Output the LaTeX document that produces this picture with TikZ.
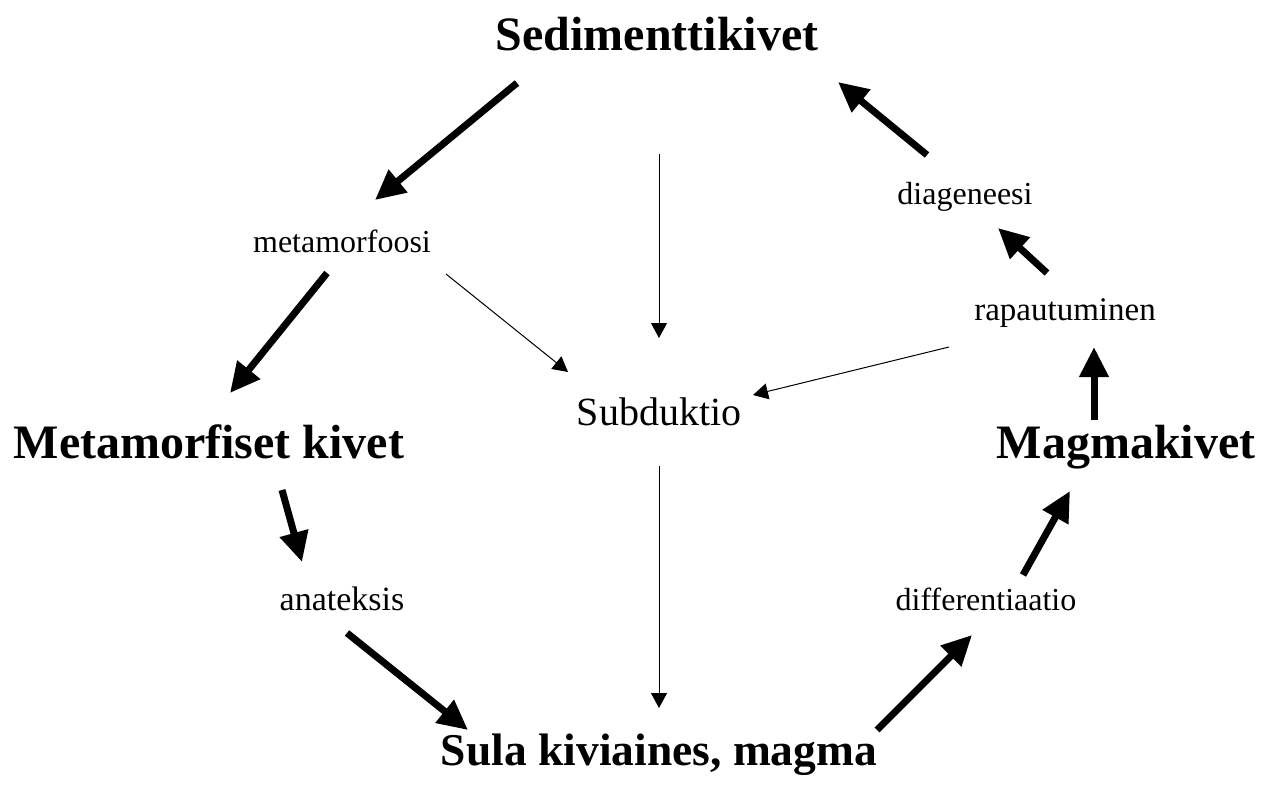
\documentclass[tikz,border=0pt]{standalone}
\usepackage{fontspec}
\setmainfont{Liberation Serif}
\usetikzlibrary{arrows.meta,calc}
\begin{document}
\begin{tikzpicture}[x=1pt,y=-1pt,
  rock/.style={anchor=base,inner sep=0pt,font=\fontsize{48}{56}\selectfont\bfseries},
  proc/.style={anchor=base,inner sep=0pt,font=\fontsize{32}{38}\selectfont},
  mid/.style={anchor=base,inner sep=0pt,font=\fontsize{40}{48}\selectfont},
  bigarrow/.style={line width=7pt,-{Triangle[length=30pt,width=28pt]}},
  thinarrow/.style={line width=1pt,-{Triangle[length=15pt,width=16pt]}}]
\useasboundingbox[fill=white] (0,0) rectangle (1274,803);

% rock types
\node[rock] (sed)  at (657,50)  {Sedimenttikivet};
\node[rock] (metk) at (209,458) {Metamorfiset kivet};
\node[rock] (mag)  at (1126,458) {Magmakivet};
\node[rock,font=\fontsize{45.5}{54}\selectfont\bfseries] (sula) at (659,765) {Sula kiviaines, magma};

% processes
\node[proc] (meta) at (342,252)  {metamorfoosi};
\node[proc] (dia)  at (965,204)  {diageneesi};
\node[proc,font=\fontsize{33}{40}\selectfont] (rap)  at (1065,320) {rapautuminen};
\node[proc,font=\fontsize{34}{40}\selectfont] (ana)  at (342,610)  {anateksis};
\node[proc] (dif)  at (986,610)  {differentiaatio};
\node[mid]  (sub)  at (659,425)  {Subduktio};

% main cycle
\draw[bigarrow] ($(sed.base)+(-140,33)$) -- ($(meta.base)+(33,-52)$);
\draw[bigarrow] ($(meta.base)+(-15,21)$) -- ($(metk.base)+(21,-65)$);
\draw[bigarrow] ($(metk.base)+(73,32)$) -- ($(ana.base)+(-40,-48)$);
\draw[bigarrow] ($(ana.base)+(5,23)$) -- ($(sula.base)+(-191,-35)$);
\draw[bigarrow] ($(sula.base)+(218,-35)$) -- ($(dif.base)+(-14,25)$);
\draw[bigarrow] ($(dif.base)+(37,-35)$) -- ($(mag.base)+(-56,33)$);
\draw[bigarrow] ($(mag.base)+(-32,-38)$) -- ($(rap.base)+(29,27)$);
\draw[bigarrow] ($(rap.base)+(-18,-47)$) -- ($(dia.base)+(33,24)$);
\draw[bigarrow] ($(dia.base)+(-38,-49)$) -- ($(sed.base)+(181,32)$);

% subduction branch
\draw[thinarrow] ($(sed.base)+(2,104)$) -- ($(sub.base)+(0,-87)$);
\draw[thinarrow] ($(meta.base)+(104,22)$) -- ($(sub.base)+(-91,-53)$);
\draw[thinarrow] ($(rap.base)+(-116,27)$) -- ($(sub.base)+(94,-30)$);
\draw[thinarrow] ($(sub.base)+(0,41)$) -- ($(sula.base)+(0,-57)$);
\end{tikzpicture}
\end{document}
